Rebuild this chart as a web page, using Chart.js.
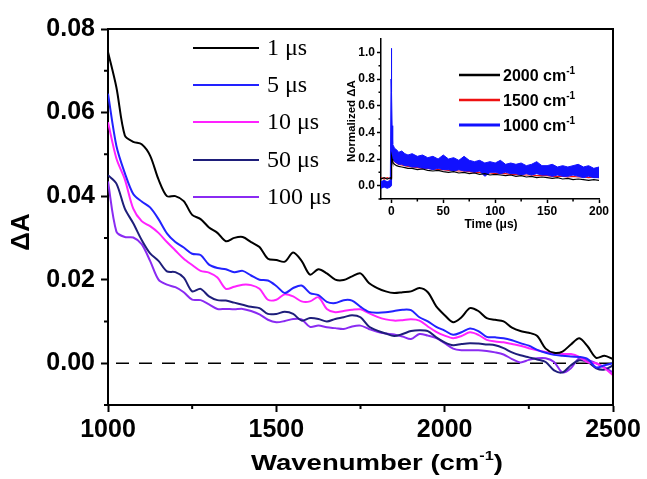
<!DOCTYPE html>
<html>
<head>
<meta charset="utf-8">
<script src="https://cdn.jsdelivr.net/npm/chart.js@4/dist/chart.umd.min.js"></script>
<style>
  body { margin: 0; background: #fff; }
  #wrap { position: relative; width: 647px; height: 479px; }
  #inset { position: absolute; left: 330px; top: 28px; }
</style>
</head>
<body>
<div id="wrap">
  <canvas id="main" width="647" height="479"></canvas>
  <canvas id="inset" width="285" height="210"></canvas>
</div>
<script>
// ---- main spectra (wavenumber in cm-1, dA) ----
const wavenumbers = [1000, 1025, 1050, 1075, 1100, 1125, 1150, 1175, 1200, 1225, 1250, 1275, 1300, 1325, 1350, 1375,
  1400, 1425, 1450, 1475, 1500, 1525, 1550, 1575, 1600, 1625, 1650, 1675, 1700, 1725, 1750, 1775,
  1800, 1825, 1850, 1875, 1900, 1925, 1950, 1975, 2000, 2025, 2050, 2075, 2100, 2125, 2150, 2175,
  2200, 2225, 2250, 2275, 2300, 2325, 2350, 2375, 2400, 2425, 2450, 2475, 2500];

const dA_1us = [0.0745, 0.0660, 0.0545, 0.0530, 0.0524, 0.0497, 0.0440, 0.0400, 0.0400, 0.0388, 0.0355, 0.0345, 0.0325, 0.0312, 0.0292, 0.0300,
  0.0302, 0.0290, 0.0278, 0.0250, 0.0247, 0.0243, 0.0265, 0.0245, 0.0212, 0.0225, 0.0215, 0.0200, 0.0199, 0.0208, 0.0215, 0.0192,
  0.0180, 0.0172, 0.0168, 0.0170, 0.0172, 0.0180, 0.0170, 0.0136, 0.0115, 0.0098, 0.0110, 0.0132, 0.0125, 0.0108, 0.0104, 0.0100,
  0.0085, 0.0077, 0.0073, 0.0065, 0.0035, 0.0025, 0.0028, 0.0045, 0.0060, 0.0040, 0.0013, 0.0018, 0.0010];

const dA_5us = [0.0645, 0.0520, 0.0455, 0.0405, 0.0387, 0.0373, 0.0345, 0.0311, 0.0290, 0.0277, 0.0262, 0.0259, 0.0236, 0.0228, 0.0225, 0.0218,
  0.0221, 0.0210, 0.0200, 0.0198, 0.0185, 0.0168, 0.0180, 0.0186, 0.0168, 0.0163, 0.0147, 0.0144, 0.0151, 0.0150, 0.0135, 0.0123,
  0.0121, 0.0122, 0.0125, 0.0128, 0.0127, 0.0110, 0.0100, 0.0087, 0.0078, 0.0068, 0.0074, 0.0083, 0.0077, 0.0063, 0.0062, 0.0060,
  0.0055, 0.0048, 0.0042, 0.0032, 0.0025, 0.0020, 0.0018, 0.0016, 0.0015, 0.0010, -0.0010, -0.0005, 0.0000];

const dA_10us = [0.0577, 0.0490, 0.0440, 0.0370, 0.0340, 0.0328, 0.0312, 0.0290, 0.0270, 0.0250, 0.0235, 0.0221, 0.0217, 0.0205, 0.0178, 0.0183,
  0.0188, 0.0187, 0.0178, 0.0152, 0.0152, 0.0165, 0.0160, 0.0148, 0.0148, 0.0158, 0.0130, 0.0122, 0.0125, 0.0128, 0.0129, 0.0120,
  0.0111, 0.0105, 0.0102, 0.0103, 0.0105, 0.0102, 0.0088, 0.0075, 0.0066, 0.0060, 0.0065, 0.0074, 0.0068, 0.0056, 0.0052, 0.0050,
  0.0046, 0.0042, 0.0036, 0.0031, 0.0027, 0.0024, 0.0022, 0.0022, 0.0015, 0.0002, 0.0000, -0.0012, -0.0029];

const dA_50us = [0.0450, 0.0430, 0.0370, 0.0335, 0.0295, 0.0263, 0.0245, 0.0220, 0.0218, 0.0205, 0.0172, 0.0178, 0.0160, 0.0151, 0.0150, 0.0145,
  0.0140, 0.0135, 0.0132, 0.0118, 0.0118, 0.0123, 0.0118, 0.0102, 0.0108, 0.0106, 0.0100, 0.0106, 0.0110, 0.0115, 0.0110, 0.0088,
  0.0078, 0.0071, 0.0065, 0.0070, 0.0077, 0.0079, 0.0077, 0.0062, 0.0050, 0.0043, 0.0046, 0.0048, 0.0047, 0.0045, 0.0043, 0.0036,
  0.0026, 0.0019, 0.0014, 0.0009, 0.0003, -0.0017, -0.0022, -0.0005, 0.0007, 0.0003, -0.0012, -0.0015, -0.0005];

const dA_100us = [0.0435, 0.0315, 0.0302, 0.0301, 0.0285, 0.0245, 0.0200, 0.0188, 0.0182, 0.0170, 0.0152, 0.0151, 0.0141, 0.0130, 0.0130, 0.0129,
  0.0130, 0.0125, 0.0117, 0.0104, 0.0098, 0.0101, 0.0106, 0.0105, 0.0087, 0.0090, 0.0086, 0.0084, 0.0082, 0.0088, 0.0090, 0.0082,
  0.0075, 0.0071, 0.0069, 0.0064, 0.0058, 0.0070, 0.0066, 0.0060, 0.0048, 0.0035, 0.0031, 0.0031, 0.0031, 0.0029, 0.0026, 0.0021,
  0.0010, 0.0002, 0.0008, 0.0012, 0.0012, 0.0003, -0.0022, -0.0012, 0.0012, 0.0008, 0.0000, -0.0010, -0.0022];

const delayLabels = ["1 \u03bcs", "5 \u03bcs", "10 \u03bcs", "50 \u03bcs", "100 \u03bcs"];
const delayColors = ["#000000", "#2222ff", "#ff22ff", "#1e1e7a", "#8a2bf2"];

const xTicks = [1000, 1500, 2000, 2500];
const xMinor = [1250, 1750, 2250];
const yTicks = [0.00, 0.02, 0.04, 0.06, 0.08];
const yMinor = [-0.01, 0.01, 0.03, 0.05, 0.07];

// ---- inset kinetics (time in us, normalized dA) ----
const insetTime = [-10, -7, -4, -1, -0.3, 0, 0.3, 0.7, 1, 1.5, 2, 3, 5, 7, 10, 13, 16, 20, 25, 30,
  35, 40, 45, 50, 55, 60, 65, 70, 75, 80, 85, 90, 95, 100, 105, 110, 115, 120, 125, 130,
  135, 140, 145, 150, 155, 160, 165, 170, 175, 180, 185, 190, 195, 200];
const k2000 = [0.05, 0.06, 0.05, 0.06, 0.05, 0.06, 0.22, 0.20, 0.19, 0.18, 0.17, 0.16, 0.15, 0.145, 0.14, 0.135, 0.13, 0.13, 0.12, 0.125,
  0.115, 0.11, 0.115, 0.105, 0.10, 0.105, 0.095, 0.10, 0.09, 0.095, 0.085, 0.09, 0.08, 0.085, 0.08, 0.075, 0.08, 0.07, 0.075, 0.065,
  0.07, 0.06, 0.065, 0.06, 0.055, 0.06, 0.05, 0.055, 0.045, 0.05, 0.045, 0.04, 0.045, 0.04];
const k1500 = [0.06, 0.05, 0.06, 0.05, 0.06, 0.08, 0.26, 0.23, 0.21, 0.20, 0.19, 0.18, 0.17, 0.16, 0.155, 0.15, 0.145, 0.14, 0.135, 0.13,
  0.13, 0.125, 0.12, 0.12, 0.115, 0.115, 0.11, 0.11, 0.105, 0.10, 0.10, 0.095, 0.095, 0.09, 0.09, 0.09, 0.085, 0.085, 0.08, 0.08,
  0.08, 0.075, 0.075, 0.075, 0.07, 0.07, 0.07, 0.065, 0.07, 0.065, 0.065, 0.06, 0.065, 0.06];
// 1000 cm-1 trace is very noisy: kept as upper / lower envelope of the band
const k1000Hi = [0.03, 0.04, 0.03, 0.04, 0.80, 1.03, 0.70, 0.45, 0.36, 0.31, 0.30, 0.28, 0.27, 0.25, 0.26, 0.24, 0.23, 0.24, 0.22, 0.23,
  0.21, 0.22, 0.20, 0.23, 0.20, 0.21, 0.19, 0.22, 0.19, 0.18, 0.19, 0.17, 0.18, 0.17, 0.19, 0.16, 0.17, 0.16, 0.17, 0.15,
  0.16, 0.18, 0.15, 0.15, 0.16, 0.14, 0.15, 0.14, 0.15, 0.16, 0.14, 0.15, 0.13, 0.14];
const k1000Lo = [-0.02, -0.01, -0.02, -0.01, 0.00, 0.05, 0.25, 0.22, 0.21, 0.20, 0.19, 0.18, 0.17, 0.16, 0.16, 0.15, 0.15, 0.14, 0.14, 0.13,
  0.13, 0.12, 0.13, 0.12, 0.12, 0.11, 0.12, 0.11, 0.11, 0.10, 0.11, 0.07, 0.10, 0.10, 0.09, 0.10, 0.09, 0.09, 0.08, 0.09,
  0.08, 0.09, 0.08, 0.08, 0.07, 0.08, 0.07, 0.07, 0.08, 0.07, 0.06, 0.07, 0.06, 0.06];

const insetLabels = ["2000", "1500", "1000"];
const insetColors = ["#000000", "#ee1111", "#1111ff"];
const insetXTicks = [0, 50, 100, 150, 200];
const insetXMinor = [25, 75, 125, 175];
const insetYTicks = [0.0, 0.2, 0.4, 0.6, 0.8, 1.0];
const insetYMinor = [-0.1, 0.1, 0.3, 0.5, 0.7, 0.9];

const SANS = "'Liberation Sans', Arial, sans-serif";

function pts(xs, ys) {
  return xs.map((x, i) => ({ x: x, y: ys[i] }));
}

// text with a superscript part, e.g. cm^-1
function drawSup(ctx, base, sup, tail, x, y, size, supSize, align, sx) {
  ctx.save();
  ctx.translate(x, y);
  ctx.scale(sx || 1, 1);
  ctx.textBaseline = "alphabetic";
  ctx.textAlign = "left";
  ctx.font = "bold " + size + "px " + SANS;
  const wb = ctx.measureText(base).width;
  const wt = ctx.measureText(tail).width;
  ctx.font = "bold " + supSize + "px " + SANS;
  const ws = ctx.measureText(sup).width;
  let x0 = align === "center" ? -(wb + ws + wt) / 2 : 0;
  ctx.fillStyle = "#000";
  ctx.font = "bold " + size + "px " + SANS;
  ctx.fillText(base, x0, 0);
  ctx.font = "bold " + supSize + "px " + SANS;
  ctx.fillText(sup, x0 + wb, -size * 0.45);
  ctx.font = "bold " + size + "px " + SANS;
  ctx.fillText(tail, x0 + wb + ws, 0);
  ctx.restore();
}

// box + minor ticks
const framePlugin = {
  id: "frame",
  afterDraw(chart, args, opts) {
    const { ctx, chartArea: a } = chart;
    const x = chart.scales.x, y = chart.scales.y;
    ctx.save();
    ctx.strokeStyle = "#000";
    if (opts.box) {
      ctx.lineWidth = opts.width;
      ctx.beginPath();
      ctx.moveTo(a.left, a.top);
      ctx.lineTo(a.right, a.top);
      ctx.lineTo(a.right, a.bottom);
      ctx.stroke();
    }
    ctx.lineWidth = opts.width;
    ctx.beginPath();
    opts.xMinor.forEach(v => {
      const px = x.getPixelForValue(v);
      ctx.moveTo(px, a.bottom);
      ctx.lineTo(px, a.bottom + opts.minorLen);
    });
    opts.yMinor.forEach(v => {
      const py = y.getPixelForValue(v);
      ctx.moveTo(a.left, py);
      ctx.lineTo(a.left - opts.minorLen, py);
    });
    ctx.stroke();
    ctx.restore();
  }
};

// titles and legend of the main chart
const mainText = {
  id: "mainText",
  afterDraw(chart) {
    const ctx = chart.ctx;
    drawSup(ctx, "Wavenumber (cm", "-1", ")", 377, 470, 22, 13, "center", 1.25);
    ctx.save();
    ctx.translate(22, 232);
    ctx.rotate(-Math.PI / 2);
    ctx.font = "bold 26px " + SANS;
    ctx.textAlign = "center";
    ctx.textBaseline = "middle";
    ctx.fillStyle = "#000";
    ctx.fillText("\u0394A", 0, 0);
    ctx.restore();

    const rows = [48, 85, 122, 160, 197];
    ctx.save();
    ctx.lineWidth = 2;
    ctx.font = "24px 'Liberation Serif', 'Times New Roman', serif";
    ctx.textBaseline = "middle";
    ctx.fillStyle = "#000";
    delayLabels.forEach((lab, i) => {
      ctx.strokeStyle = delayColors[i];
      ctx.beginPath();
      ctx.moveTo(193, rows[i]);
      ctx.lineTo(259, rows[i]);
      ctx.stroke();
      ctx.fillText(lab, 267, rows[i] + 1);
    });
    ctx.restore();
  }
};

const mainSets = [dA_1us, dA_5us, dA_10us, dA_50us, dA_100us].map((arr, i) => ({
  label: delayLabels[i],
  data: pts(wavenumbers, arr),
  borderColor: delayColors[i],
  borderWidth: 2,
  pointRadius: 0,
  tension: 0.3,
  fill: false
}));
mainSets.push({
  label: "zero",
  data: [{ x: 1000, y: 0 }, { x: 2500, y: 0 }],
  borderColor: "#000",
  borderWidth: 1.5,
  borderDash: [13, 10],
  borderDashOffset: -8,
  pointRadius: 0
});

new Chart(document.getElementById("main"), {
  type: "line",
  data: { datasets: mainSets },
  options: {
    responsive: false,
    animation: false,
    devicePixelRatio: 1,
    layout: { padding: { top: 29, right: 34, left: 0, bottom: 0 } },
    plugins: {
      legend: { display: false },
      tooltip: { enabled: false },
      frame: { box: true, width: 2, minorLen: 4, xMinor: xMinor, yMinor: yMinor }
    },
    scales: {
      x: {
        type: "linear",
        min: 1000,
        max: 2500,
        afterBuildTicks: s => { s.ticks = xTicks.map(v => ({ value: v })); },
        afterFit: s => { s.height = 74; },
        ticks: { color: "#000", font: { family: SANS, size: 25, weight: "bold" }, padding: 3, maxRotation: 0, autoSkip: false,
          callback: v => String(v) },
        grid: { drawOnChartArea: false, tickLength: 7, tickWidth: 2, tickColor: "#000" },
        border: { color: "#000", width: 2 }
      },
      y: {
        min: -0.01,
        max: 0.08,
        afterBuildTicks: s => { s.ticks = yTicks.map(v => ({ value: v })); },
        afterFit: s => { s.width = 108; },
        ticks: { color: "#000", font: { family: SANS, size: 25, weight: "bold" }, padding: 6, autoSkip: false,
          callback: v => v.toFixed(2) },
        grid: { drawOnChartArea: false, tickLength: 7, tickWidth: 2, tickColor: "#000" },
        border: { color: "#000", width: 2 }
      }
    }
  },
  plugins: [framePlugin, mainText]
});

// ---- inset ----
const insetText = {
  id: "insetText",
  afterDraw(chart) {
    const ctx = chart.ctx;
    ctx.save();
    ctx.fillStyle = "#000";
    ctx.font = "bold 12px " + SANS;
    ctx.textAlign = "center";
    ctx.textBaseline = "middle";
    ctx.fillText("Time (\u03bcs)", 161, 197);
    ctx.translate(22, 93);
    ctx.rotate(-Math.PI / 2);
    ctx.font = "bold 11.5px " + SANS;
    ctx.fillText("Normalized \u0394A", 0, 0);
    ctx.restore();

    const rows = [47, 72, 97];
    insetLabels.forEach((lab, i) => {
      ctx.save();
      ctx.strokeStyle = insetColors[i];
      ctx.lineWidth = i === 2 ? 3 : 2.5;
      ctx.beginPath();
      ctx.moveTo(129, rows[i]);
      ctx.lineTo(170, rows[i]);
      ctx.stroke();
      ctx.restore();
      drawSup(ctx, lab + " cm", "-1", "", 173, rows[i] + 6, 16, 10, "left", 1);
    });
  }
};

new Chart(document.getElementById("inset"), {
  type: "line",
  data: {
    datasets: [
      { label: "2000", data: pts(insetTime, k2000), borderColor: insetColors[0], borderWidth: 1.2, pointRadius: 0, order: 0 },
      { label: "1500", data: pts(insetTime, k1500), borderColor: insetColors[1], borderWidth: 1.2, pointRadius: 0, order: 2 },
      { label: "1000 lo", data: pts(insetTime, k1000Lo), borderColor: insetColors[2], borderWidth: 1, pointRadius: 0, order: 1 },
      { label: "1000 hi", data: pts(insetTime, k1000Hi), borderColor: insetColors[2], borderWidth: 1, pointRadius: 0,
        fill: "-1", backgroundColor: insetColors[2], order: 1 }
    ]
  },
  options: {
    responsive: false,
    animation: false,
    devicePixelRatio: 1,
    layout: { padding: { top: 11, right: 16, left: 0, bottom: 0 } },
    plugins: {
      legend: { display: false },
      tooltip: { enabled: false },
      filler: { propagate: false },
      frame: { box: false, width: 1.5, minorLen: 2.5, xMinor: insetXMinor, yMinor: insetYMinor }
    },
    scales: {
      x: {
        type: "linear",
        min: -10,
        max: 200,
        afterBuildTicks: s => { s.ticks = insetXTicks.map(v => ({ value: v })); },
        afterFit: s => { s.height = 39; },
        ticks: { color: "#000", font: { family: SANS, size: 12, weight: "bold" }, padding: 1, maxRotation: 0, autoSkip: false },
        grid: { drawOnChartArea: false, tickLength: 4, tickWidth: 1.5, tickColor: "#000" },
        border: { color: "#000", width: 1.5 }
      },
      y: {
        min: -0.1,
        max: 1.1,
        afterBuildTicks: s => { s.ticks = insetYTicks.map(v => ({ value: v })); },
        afterFit: s => { s.width = 51; },
        ticks: { color: "#000", font: { family: SANS, size: 12, weight: "bold" }, padding: 2, autoSkip: false,
          callback: v => v.toFixed(1) },
        grid: { drawOnChartArea: false, tickLength: 4, tickWidth: 1.5, tickColor: "#000" },
        border: { color: "#000", width: 1.5 }
      }
    }
  },
  plugins: [framePlugin, insetText]
});
</script>
</body>
</html>
